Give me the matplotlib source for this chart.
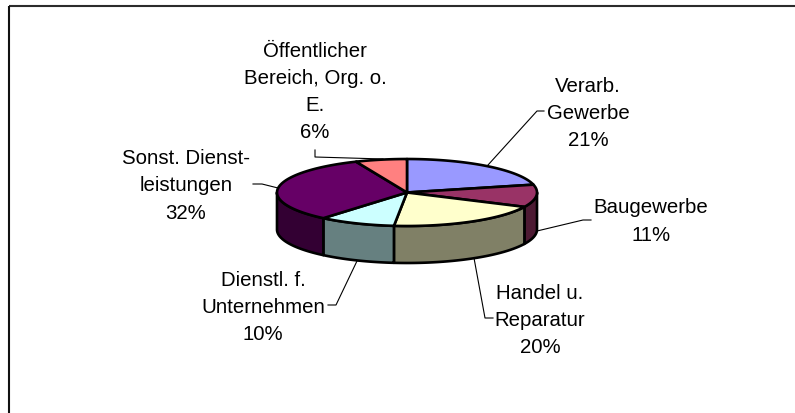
import numpy as np
import matplotlib
matplotlib.use("Agg")
import matplotlib.pyplot as plt

# order is clockwise from 12 o'clock
names = ["Verarb.\nGewerbe", "Baugewerbe", "Handel u.\nReparatur",
         "Dienstl. f.\nUnternehmen", "Sonst. Dienst-\nleistungen", "Öffentlicher\nBereich, Org. o.\nE."]
shares = [21.2, 10.8, 19.5, 9.5, 32.4, 6.4]
top_colors = ["#9999FF", "#993366", "#FFFFCC", "#CCFFFF", "#660066", "#FF8080"]
side_colors = ["#4C4C80", "#4D1A33", "#808066", "#668080", "#330033", "#804040"]

label_pos = [(588, 113.5), (651, 221.5), (540, 320.5), (263, 307.5), (186, 186), (315, 92)]
leaders = [
    [(488, 166), (537, 112), (544, 112)],
    [(537, 232), (583, 221), (591, 221)],
    [(474, 259), (485, 319), (493, 319)],
    [(357, 262), (336, 306), (328, 306)],
    [(278, 189), (262, 185), (253, 185)],
    [(383, 160), (315, 158), (315, 151)],
]

cx, cy = 407, 193.5
rx, ry = 130, 33.5
depth = 37

def rim(a0, a1, dy=0):
    # a is degrees clockwise from the top
    a = np.radians(np.linspace(a0, a1, 80))
    return cx + rx * np.sin(a), cy - ry * np.cos(a) + dy

fig = plt.figure(figsize=(7.95, 4.14), dpi=100)
ax = fig.add_axes([0, 0, 1, 1])
ax.set_xlim(0, 795)
ax.set_ylim(414, 0)
ax.axis("off")

# chart frame, only top and left show in the crop
ax.plot([8.8, 795], [6.8, 6.8], color="#2b2b2b", lw=1.5, solid_capstyle="butt")
ax.plot([8.8, 8.8], [6.8, 414], color="#111111", lw=1.5, solid_capstyle="butt")

edges = np.cumsum([0] + shares) / sum(shares) * 360

# walls first, only the front half of the disc is visible
for i in range(len(shares)):
    a0 = max(edges[i], 90)
    a1 = min(edges[i + 1], 270)
    if a1 <= a0:
        continue
    x0, y0 = rim(a0, a1)
    x1, y1 = rim(a1, a0, depth)
    ax.fill(np.r_[x0, x1], np.r_[y0, y1], facecolor=side_colors[i],
            edgecolor="black", lw=1.9, joinstyle="round")

# top of the disc
for i in range(len(shares)):
    x, y = rim(edges[i], edges[i + 1])
    ax.fill(np.r_[cx, x], np.r_[cy, y], facecolor=top_colors[i],
            edgecolor="black", lw=1.9, joinstyle="round")

for pts in leaders:
    xs, ys = zip(*pts)
    ax.plot(xs, ys, color="black", lw=0.8, zorder=1 if pts[0][0] == 383 else 3)

for name, share, (x, y) in zip(names, shares, label_pos):
    ax.text(x, y, "%s\n%d%%" % (name, round(share)), ha="center", va="center",
            family="Liberation Sans", fontsize=14.7, linespacing=1.55, color="black")

fig.savefig("out.png", dpi=100)
